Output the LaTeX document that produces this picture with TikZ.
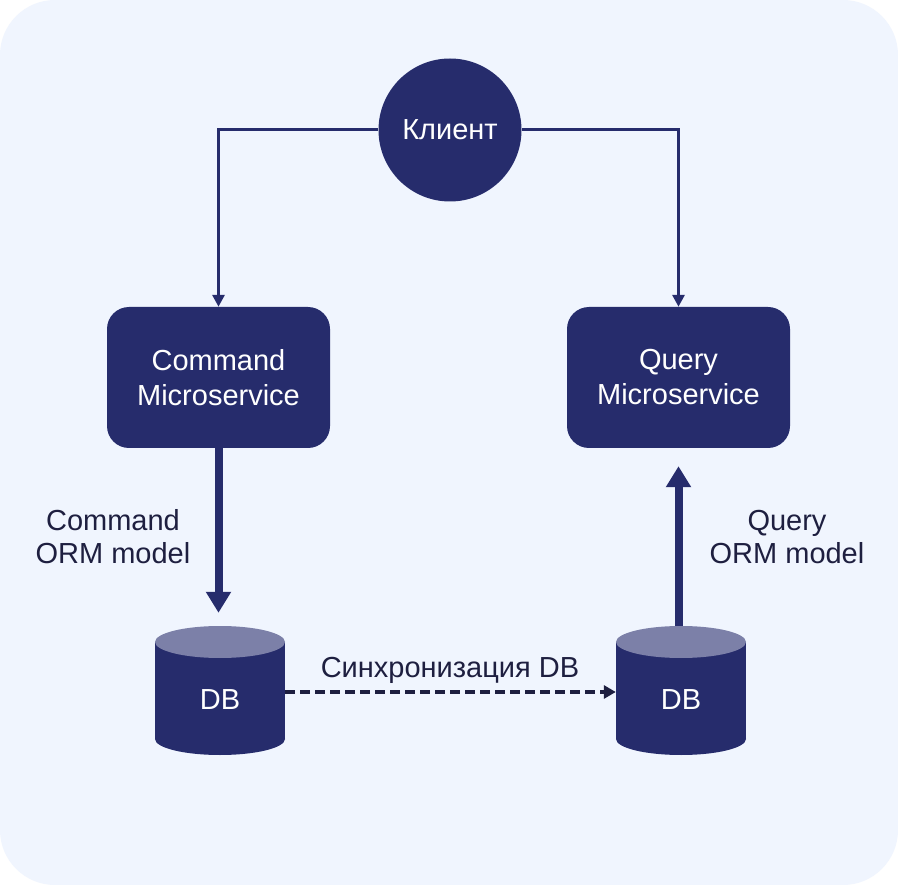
\documentclass[tikz,border=0pt]{standalone}
\usepackage{fontspec}
\setmainfont{Liberation Sans}
\usetikzlibrary{arrows.meta,calc}
\definecolor{navy}{HTML}{262C6C}
\definecolor{capc}{HTML}{7C80A8}
\definecolor{bgc}{HTML}{F0F5FE}
\definecolor{txt}{HTML}{1E1F40}
\tikzset{
  svc/.style={fill=navy, text=white, rounded corners=22pt, minimum width=223pt, minimum height=141pt, align=center, font=\fontsize{29}{35}\selectfont},
  client/.style={circle, fill=navy, text=white, minimum size=143pt, inner sep=0pt, font=\fontsize{29}{35}\selectfont},
  dbbox/.style={minimum width=130pt, minimum height=129pt, inner sep=0pt},
  dbtext/.style={text=white, font=\fontsize{29}{35}\selectfont},
  lbl/.style={text=txt, align=center, font=\fontsize{29}{33}\selectfont},
  thinarrow/.style={draw=navy, line width=3pt, -{Triangle[width=12pt,length=12pt]}},
  thickarrow/.style={draw=navy, line width=8pt, -{Triangle[width=24pt,length=21pt]}},
  syncarrow/.style={draw=txt, line width=3.5pt, dash pattern=on 10pt off 5pt, -{Triangle[width=13pt,length=12pt]}}
}
\begin{document}
\begin{tikzpicture}[x=1pt,y=-1pt]
\useasboundingbox (0,0) rectangle (898,885);
\fill[white] (0,0) rectangle (898,885);
\fill[bgc, rounded corners=55pt] (0,0) rectangle (898,885);

\node[client] (cl) at (450,130) {Клиент};
\node[svc] (cmd) at (218.5,377.5) {Command\\Microservice};
\node[svc] (qry) at (678.5,377.5) {Query\\Microservice};

\node[dbbox] (dbL) at (220,690.5) {};
\node[dbbox] (dbR) at (681,690.5) {};

% connectors
\draw[thinarrow] (cl.west) -| (cmd.north);
\draw[thinarrow] (cl.east) -| (qry.north);
\draw[thickarrow, shorten >=13pt] (cmd.south) -- (cmd.south |- dbL.north);
\draw[thickarrow, shorten >=18pt] (qry.south |- dbR.north) -- (qry.south);

% cylinders
\foreach \c/\x in {dbL/220,dbR/681}{
  \fill[navy] (\x-65,642) rectangle (\x+65,739);
  \fill[navy] (\x,739) ellipse [x radius=65, y radius=16];
  \fill[capc] (\x,642) ellipse [x radius=65, y radius=16];
}
\node[dbtext] (dbLt) at (220,700) {DB};
\node[dbtext] (dbRt) at (681,700) {DB};

\draw[syncarrow] ($(dbL.east)+(0,1.5)$) -- ($(dbR.west)+(0,1.5)$);
\node[lbl] (sync) at (450,670) {Синхронизация DB};

\node[lbl] (cmdl) at (113,537) {Command\\ORM model};
\node[lbl] (qryl) at (787,537) {Query\\ORM model};
\end{tikzpicture}
\end{document}
